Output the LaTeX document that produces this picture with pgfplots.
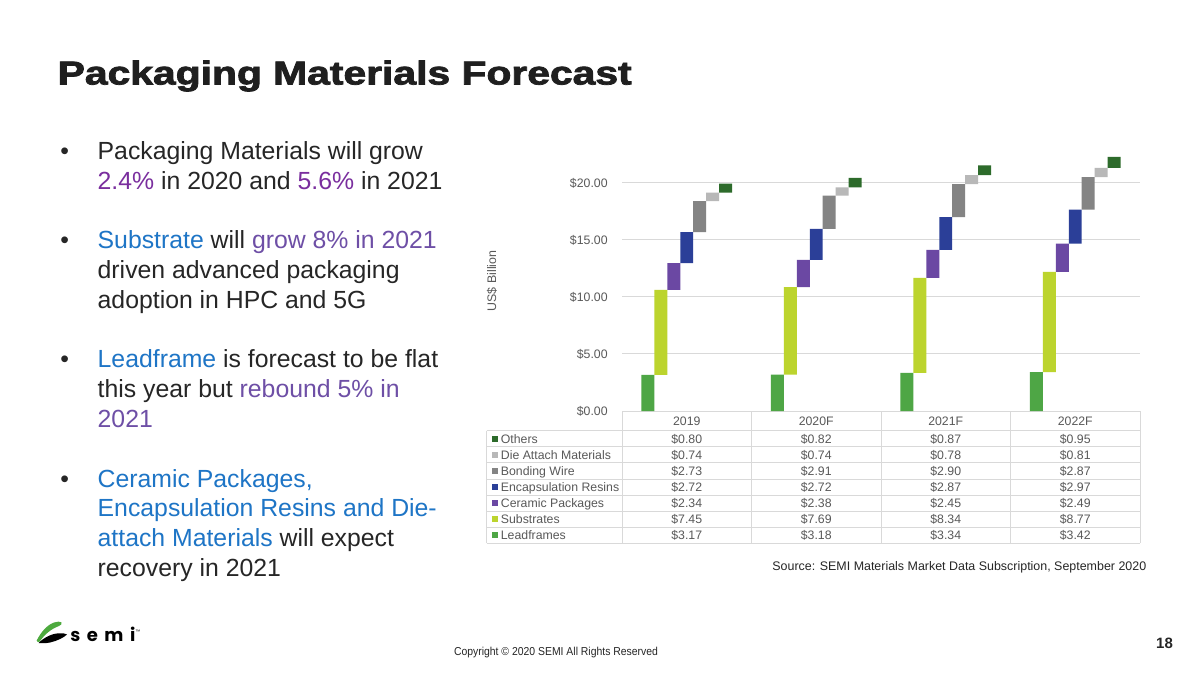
\documentclass[border=0pt]{standalone}
\usepackage{pgfplots}
\pgfplotsset{compat=1.18}
\usepackage{pgfplotstable}
\usepackage{fontspec}
\setmainfont{Liberation Sans}
\newfontfamily\titlefont{Liberation Sans}[BoldFeatures={FakeBold=2.2}]
\newfontfamily\poppins{Poppins}[LetterSpace=36]
\newcommand\fs[1]{\fontsize{#1}{#1}\selectfont}
\definecolor{cLead}{HTML}{4EA645}
\definecolor{cSub}{HTML}{BCD42E}
\definecolor{cCer}{HTML}{6B48A3}
\definecolor{cEnc}{HTML}{2B3F98}
\definecolor{cBond}{HTML}{848484}
\definecolor{cDie}{HTML}{B8B8B8}
\definecolor{cOth}{HTML}{2D6B2B}
\definecolor{gridc}{HTML}{D9D9D9}
\definecolor{lbl}{HTML}{595959}
\definecolor{txtc}{HTML}{262626}
\definecolor{pur}{HTML}{7A2E9E}
\definecolor{pur2}{HTML}{6E4FA6}
\definecolor{blu}{HTML}{1E75C6}
\definecolor{logog}{HTML}{4DAA3E}
\newcommand\cP[1]{\textcolor{pur}{#1}}
\newcommand\cQ[1]{\textcolor{pur2}{#1}}
\newcommand\cB[1]{\textcolor{blu}{#1}}

\pgfplotstableread{
x lead sub cer enc bond die oth
0 3.17 7.45 2.34 2.72 2.73 0.74 0.80
1 3.18 7.69 2.38 2.72 2.91 0.74 0.82
2 3.34 8.34 2.45 2.87 2.90 0.78 0.87
3 3.42 8.77 2.49 2.97 2.87 0.81 0.95
}\datatable

\begin{document}
\begin{tikzpicture}
\useasboundingbox (0,0) rectangle (600pt,-337pt);
\fill[white] (0,0) rectangle (600pt,-337pt);
\begin{scope}[x=0.5pt,y=-0.5pt]
% title
\node[anchor=base west, inner sep=0pt, text=black!88] at (57.3,84.5) {\resizebox{287pt}{12pt}{\titlefont\fs{16.75pt}\bfseries Packaging Materials Forecast}};
% bullets
\begin{scope}[every node/.style={anchor=base west, inner sep=0pt, text=txtc, font=\fs{12.4pt}}]
\foreach \y in {159.3,248.7,367.9,487.1} {\node at (60,\y) {\textbullet};}
\node at (97.3,159.3) {Packaging Materials will grow};
\node at (97.3,189.1) {\cP{2.4\%} in 2020 and \cP{5.6\%} in 2021};
\node at (97.3,248.7) {\cB{Substrate} will \cQ{grow 8\% in 2021}};
\node at (97.3,278.5) {driven advanced packaging};
\node at (97.3,308.3) {adoption in HPC and 5G};
\node at (97.3,367.9) {\cB{Leadframe} is forecast to be flat};
\node at (97.3,397.7) {this year but \cQ{rebound 5\% in}};
\node at (97.3,427.5) {\cQ{2021}};
\node at (97.3,487.1) {\cB{Ceramic Packages,}};
\node at (97.3,516.9) {\cB{Encapsulation Resins and Die-}};
\node at (97.3,546.7) {\cB{attach Materials} will expect};
\node at (97.3,576.5) {recovery in 2021};
\end{scope}
% y label
\node[rotate=90, text=lbl, font=\fs{6.2pt}, inner sep=0pt] at (492,281) {US\$ Billion};
% table grid
\begin{scope}[gridc, line width=0.5pt]
\foreach \i in {0,...,7} {\draw (486.7,{430.7+16.1*\i}) -- (1140,{430.7+16.1*\i});}
\draw (486.7,430.7) -- (486.7,543.4);
\foreach \xx in {622,751.5,881,1010.5,1140} {\draw (\xx,411) -- (\xx,543.4);}
\end{scope}
\begin{scope}[every node/.style={anchor=base, inner sep=0pt, text=lbl, font=\fs{6.15pt}}]
\node at (686.75,425.5) {2019};
\node at (816.25,425.5) {2020F};
\node at (945.75,425.5) {2021F};
\node at (1075.25,425.5) {2022F};
\foreach \i/\name/\col/\a/\b/\c/\d in {
0/Others/cOth/0.80/0.82/0.87/0.95,
1/Die Attach Materials/cDie/0.74/0.74/0.78/0.81,
2/Bonding Wire/cBond/2.73/2.91/2.90/2.87,
3/Encapsulation Resins/cEnc/2.72/2.72/2.87/2.97,
4/Ceramic Packages/cCer/2.34/2.38/2.45/2.49,
5/Substrates/cSub/7.45/7.69/8.34/8.77,
6/Leadframes/cLead/3.17/3.18/3.34/3.42} {
  \fill[\col] (491.7,{430.7+16.1*(\i+0.5)-2.9}) rectangle (497.5,{430.7+16.1*(\i+0.5)+2.9});
  \node[anchor=base west] at (500.5,{430.7+16.1*(\i+0.5)+4.4}) {\name};
  \node at (686.75,{430.7+16.1*(\i+0.5)+4.4}) {\$\a};
  \node at (816.25,{430.7+16.1*(\i+0.5)+4.4}) {\$\b};
  \node at (945.75,{430.7+16.1*(\i+0.5)+4.4}) {\$\c};
  \node at (1075.25,{430.7+16.1*(\i+0.5)+4.4}) {\$\d};
}
\end{scope}
% source
\node[anchor=base west, inner sep=0pt, text=txtc, font=\fs{6.22pt}] at (772,570.5) {Source: SEMI Materials Market Data Subscription, September 2020};
% copyright
\node[anchor=base, inner sep=0pt, text=txtc, font=\fs{5.75pt}] at (556,655.5) {\scalebox{0.906}[1]{Copyright \textcopyright{} 2020 SEMI All Rights Reserved}};
% page number
\node[anchor=base, inner sep=0pt, text=txtc, font=\fs{7.5pt}\bfseries] at (1164.5,648.5) {18};
% logo
\fill[logog] (36.7,640.5) .. controls (41,632) and (47,625) .. (54,622.5) .. controls (57,621.5) and (60,621.3) .. (61.5,622.3) .. controls (62.3,623.5) and (61.5,625) .. (59,626) .. controls (51,629) and (45,634) .. (39.5,641.7) .. controls (38.5,642.5) and (36.5,642) .. (36.7,640.5) -- cycle;
\fill[black] (38.5,643) .. controls (44,637.5) and (52,633.5) .. (59,633.3) .. controls (63,633.2) and (66,633.6) .. (67,634.5) .. controls (64,637.5) and (57,641) .. (50,642.5) .. controls (46,643.3) and (42,643.4) .. (38.5,643) -- cycle;
\node[anchor=base west, inner sep=0pt, font=\poppins\fs{9pt}\bfseries] at (70,641.5) {semi};
\node[anchor=base west, inner sep=0pt, font=\fs{2.5pt}] at (135,633) {\texttrademark};
\end{scope}

\begin{axis}[
  at={(311pt,-205.5pt)}, anchor=south west,
  scale only axis, width=259pt, height=130pt,
  xmin=-0.5, xmax=3.5, ymin=0, ymax=22.8,
  enlargelimits=false,
  ybar stacked, bar width=6.475pt,
  xtick=\empty,
  ytick={0,5,10,15,20},
  yticklabels={\$0.00,\$5.00,\$10.00,\$15.00,\$20.00},
  yticklabel style={font=\fs{6.15pt}, text=lbl, inner sep=0pt, xshift=-7pt},
  ymajorgrids, grid style={gridc, line width=0.5pt},
  axis line style={draw=none},
  major tick length=0pt,
]
\addplot[fill=cLead, draw=none, bar shift=-19.425pt] table[x=x,y=lead]{\datatable};
\addplot[fill=cSub, draw=none, bar shift=-12.95pt] table[x=x,y=sub]{\datatable};
\addplot[fill=cCer, draw=none, bar shift=-6.475pt] table[x=x,y=cer]{\datatable};
\addplot[fill=cEnc, draw=none, bar shift=0pt] table[x=x,y=enc]{\datatable};
\addplot[fill=cBond, draw=none, bar shift=6.475pt] table[x=x,y=bond]{\datatable};
\addplot[fill=cDie, draw=none, bar shift=12.95pt] table[x=x,y=die]{\datatable};
\addplot[fill=cOth, draw=none, bar shift=19.425pt] table[x=x,y=oth]{\datatable};
\end{axis}
\end{tikzpicture}
\end{document}
